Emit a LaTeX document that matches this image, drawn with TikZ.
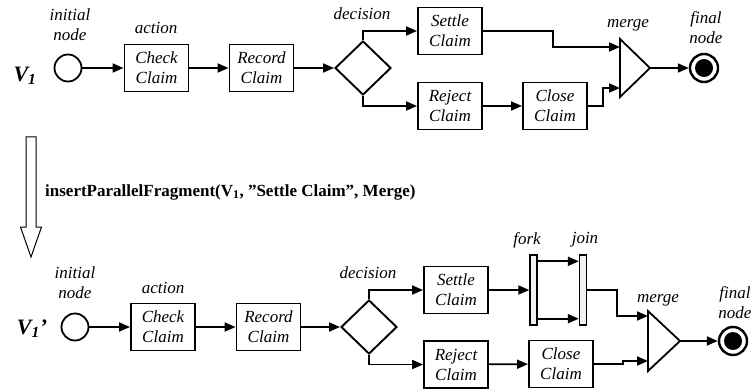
\documentclass[tikz,border=0pt]{standalone}
\usepackage{fontspec}
\setmainfont{Liberation Serif}[ItalicFont={Liberation Serif Italic},BoldItalicFont={Liberation Serif Bold Italic}]
\usetikzlibrary{arrows.meta,shapes.geometric}
\begin{document}
\begin{tikzpicture}[x=1pt,y=-1pt,
  act/.style={draw,line width=1.9pt,minimum width=64pt,minimum height=47pt,inner sep=0pt,align=center,font=\fontsize{17}{20}\selectfont\itshape},
  lbl/.style={align=center,inner sep=0pt,font=\fontsize{17}{20}\selectfont\itshape},
  flow/.style={line width=1.8pt,-{Triangle[length=11pt,width=9pt]}},
  dec/.style={diamond,draw,line width=1.9pt,minimum width=56pt,minimum height=54pt,inner sep=0pt},
  init/.style={circle,draw,line width=1.8pt,minimum size=27pt,inner sep=0pt},
  fin/.style={circle,draw,line width=2.4pt,minimum size=28pt,inner sep=0pt},
  bar/.style={draw,line width=1.4pt,fill=gray!10,minimum width=7pt,minimum height=70pt,inner sep=0pt},
  vlab/.style={inner sep=0pt,font=\fontsize{22}{24}\selectfont\bfseries\itshape},
  mrg/.style={draw,line width=1.8pt},
]
\useasboundingbox (0,0) rectangle (754,390);

% ---------------- top diagram ----------------
\node[vlab] (v1) at (25,76) {V\textsubscript{1}};
\node[lbl] (li1) at (70,25) {initial\\node};
\node[init] (i1) at (68,68) {};
\node[lbl] (la1) at (156,28) {action};
\node[act] (c1) at (156.5,68) {Check\\Claim};
\node[act] (r1) at (261.5,68) {Record\\Claim};
\node[lbl] (ld1) at (362,14) {decision};
\node[dec] (d1) at (363,68) {};
\node[act] (s1) at (450,31) {Settle\\Claim};
\node[act] (j1) at (450,106) {Reject\\Claim};
\node[act] (cl1) at (555,106) {Close\\Claim};
\node[lbl] (lm1) at (628,25) {merge};
\coordinate (m1t) at (620,39);
\coordinate (m1) at (650,68);
\coordinate (m1b) at (620,97);
\coordinate (m1a) at (620,47);
\coordinate (m1c) at (620,88);
\draw[mrg] (m1t) -- (m1) -- (m1b) -- cycle;
\node[lbl] (lf1) at (706,28) {final\\node};
\node[fin] (f1) at (704,68) {};
\fill (f1.center) circle (9);

\draw[flow] (i1) -- (c1);
\draw[flow] (c1) -- (r1);
\draw[flow] (r1) -- (d1);
\draw[flow] (d1.north) |- (s1.west);
\draw[flow] (d1.south) |- (j1.west);
\draw[flow] (j1) -- (cl1);
\draw[flow] (s1.east) -- ++(70,0) |- (m1a);
\draw[flow] (cl1.east) -- ++(15,0) |- (m1c);
\draw[flow] (m1) -- (f1);

% ---------------- transformation arrow ----------------
\draw[line width=1pt] (26,137) -- (36,137) -- (36,227) -- (41.5,227) -- (31,257) -- (20.5,227) -- (26,227) -- cycle;
\node[anchor=west,inner sep=0pt,font=\fontsize{17}{20}\selectfont\bfseries] (op) at (45,192) {insertParallelFragment(V\textsubscript{1}, ”Settle Claim”, Merge)};

% ---------------- bottom diagram ----------------
\node[vlab] (v2) at (32,329) {V\textsubscript{1}’};
\node[lbl] (li2) at (75,283) {initial\\node};
\node[init] (i2) at (75,327) {};
\node[lbl] (la2) at (163,288) {action};
\node[act] (c2) at (163,327) {Check\\Claim};
\node[act] (r2) at (268.5,327) {Record\\Claim};
\node[lbl] (ld2) at (368,273) {decision};
\node[dec] (d2) at (369,327) {};
\node[act] (s2) at (456,290) {Settle\\Claim};
\node[act] (j2) at (456,364.5) {Reject\\Claim};
\node[act] (cl2) at (561,364) {Close\\Claim};
\node[lbl] (lfk) at (527,240) {fork};
\node[lbl] (ljn) at (585,240) {join};
\node[bar] (fk) at (533.5,290) {};
\node[bar] (jn) at (583,290) {};
\node[lbl] (lm2) at (658,300) {merge};
\coordinate (m2t) at (648,311);
\coordinate (m2) at (680,341);
\coordinate (m2b) at (648,371);
\coordinate (m2a) at (648,316);
\coordinate (m2c) at (648,361);
\draw[mrg] (m2t) -- (m2) -- (m2b) -- cycle;
\node[lbl] (lf2) at (735,303) {final\\node};
\node[fin] (f2) at (733,341) {};
\fill (f2.center) circle (9);

\draw[flow] (i2) -- (c2);
\draw[flow] (c2) -- (r2);
\draw[flow] (r2) -- (d2);
\draw[flow] (d2.north) |- (s2.west);
\draw[flow] (d2.south) |- (j2.west);
\draw[flow] (j2) -- (cl2);
\draw[flow] (s2) -- (fk);
\draw[flow] ([yshift=-7pt]fk.north east) -- ([yshift=-7pt]jn.north west);
\draw[flow] ([yshift=7pt]fk.south east) -- ([yshift=7pt]jn.south west);
\draw[flow] (jn.east) -- ++(30,0) |- (m2a);
\draw[flow] (cl2.east) -- ++(29,0) |- (m2c);
\draw[flow] (m2) -- (f2);
\end{tikzpicture}
\end{document}
